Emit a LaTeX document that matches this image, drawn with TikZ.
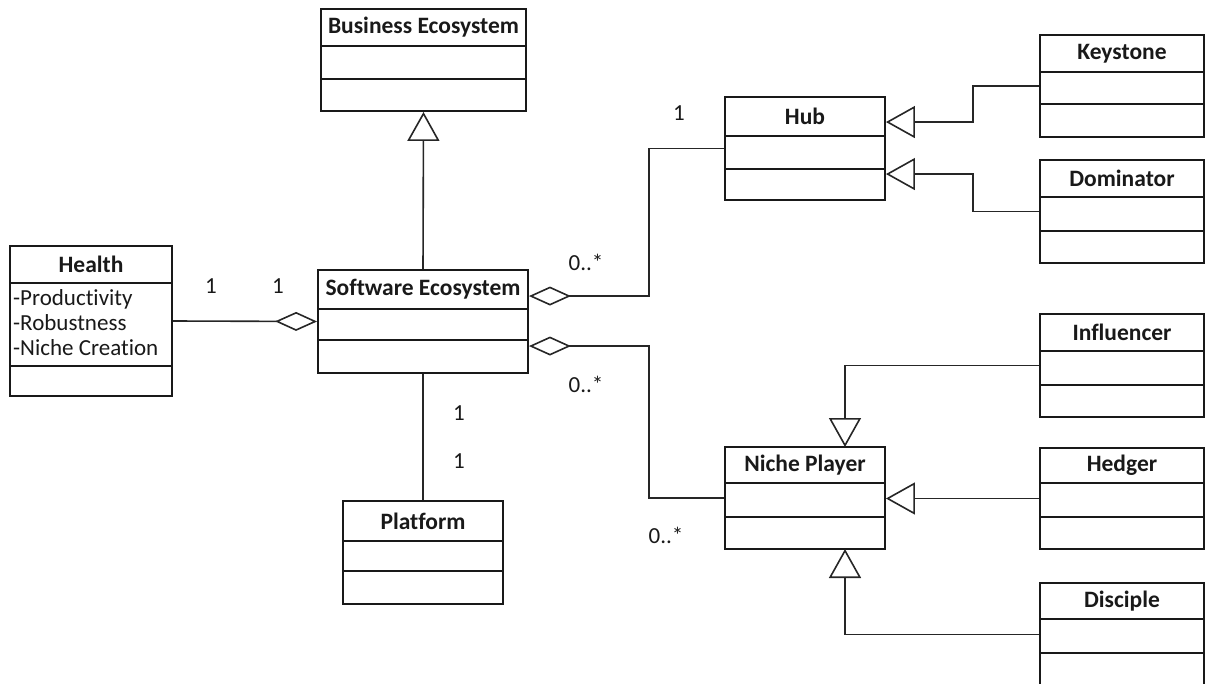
\documentclass[tikz,border=0pt]{standalone}
\usepackage{fontspec}
\setmainfont{Carlito}[Ligatures=NoCommon]
\usetikzlibrary{arrows.meta,calc,fit}

% UML class: name, left, right, top, first rule, second rule, bottom, title
\newcommand\umlclass[8]{%
  \node[classbox, fit={(#2,#4) (#3,#7)}] (#1) {};
  \draw[classline] (#2,#5) -- (#3,#5);
  \draw[classline] (#2,#6) -- (#3,#6);
  \node[classtitle] (#1-title) at ({(#2+#3)/2},{(#4+#5)/2}) {#8};
}

\begin{document}
\begin{tikzpicture}[x=1pt, y=-1pt,
  font=\fontsize{23}{25}\selectfont,
  classbox/.style={draw=black!90, line width=1.9pt, inner sep=0pt},
  classline/.style={draw=black!90, line width=1.9pt},
  classtitle/.style={font=\fontsize{23.5}{25}\selectfont\bfseries, text=black!90},
  conn/.style={draw=black!85, line width=1.6pt},
  gen/.style={conn, -{Triangle[length=29pt, width=32pt, fill=white, line width=1.6pt]}},
  agg/.style={conn, {Diamond[length=42pt, width=19pt, fill=white, line width=1.6pt]}-},
  mult/.style={text=black!90, inner sep=0pt}
]
\useasboundingbox (0,0) rectangle (1206,684);
\clip (0,0) rectangle (1206,684);

% classes
\umlclass{be}{321}{526}{9}{46}{79}{111}{Business Ecosystem}
\umlclass{health}{10}{172}{246}{283}{366}{396}{Health}
\umlclass{se}{318}{528}{270}{309}{340}{373}{Software Ecosystem}
\umlclass{plat}{343}{503}{501}{541}{571}{604}{Platform}
\umlclass{hub}{725}{885}{97}{136}{169}{200}{Hub}
\umlclass{key}{1040}{1204}{35}{72}{104}{137}{Keystone}
\umlclass{dom}{1040}{1204}{160}{197}{231}{263}{Dominator}
\umlclass{infl}{1040}{1204}{314}{351}{385}{417}{Influencer}
\umlclass{np}{725}{885}{447}{483}{517}{549}{Niche Player}
\umlclass{hedg}{1040}{1204}{448}{483}{517}{549}{Hedger}
\umlclass{disc}{1040}{1204}{583}{619}{653}{686}{Disciple}

% attributes of Health
\node[anchor=west, align=left, inner sep=0pt, text=black!90] (health-attr) at (13,323)
  {-Productivity\\-Robustness\\-Niche Creation};

% anchor points on class borders
\coordinate (se-a) at ($(se.north east)+(0,27)$);
\coordinate (se-b) at ($(se.north east)+(0,77)$);
\coordinate (hub-t1) at ($(hub.north east)+(0,26)$);
\coordinate (hub-t2) at ($(hub.north east)+(0,78)$);
\coordinate (np-top) at (845,447);
\coordinate (np-bot) at (845,549);

% generalisations
\draw[gen] (se.north) -- (be.south);
\draw[gen] (key.west) -- ++(-66,0) |- (hub-t1);
\draw[gen] (dom.west) -- ++(-66,0) |- (hub-t2);
\draw[gen] (infl.west) -| (np-top);
\draw[gen] (hedg.west) -- (hedg.west -| np.east);
\draw[gen] (disc.west) -| (np-bot);

% aggregations and associations
\draw[agg] (se.west) -- (health.east);
\draw[agg] (se-a) -| ($(hub.west)+(-75,0)$) -- (hub.west);
\draw[agg] (se-b) -| ($(np.west)+(-75,0)$) -- (np.west);
\draw[conn] (se.south) -- (plat.north);

% multiplicities
\node[mult] (m1) at (211,286) {1};
\node[mult] (m2) at (278,286) {1};
\node[mult] (m3) at (586,262) {0..*};
\node[mult] (m4) at (586,384) {0..*};
\node[mult] (m5) at (666,535) {0..*};
\node[mult] (m6) at (679,113) {1};
\node[mult] (m7) at (459,413) {1};
\node[mult] (m8) at (459,461) {1};
\end{tikzpicture}
\end{document}
